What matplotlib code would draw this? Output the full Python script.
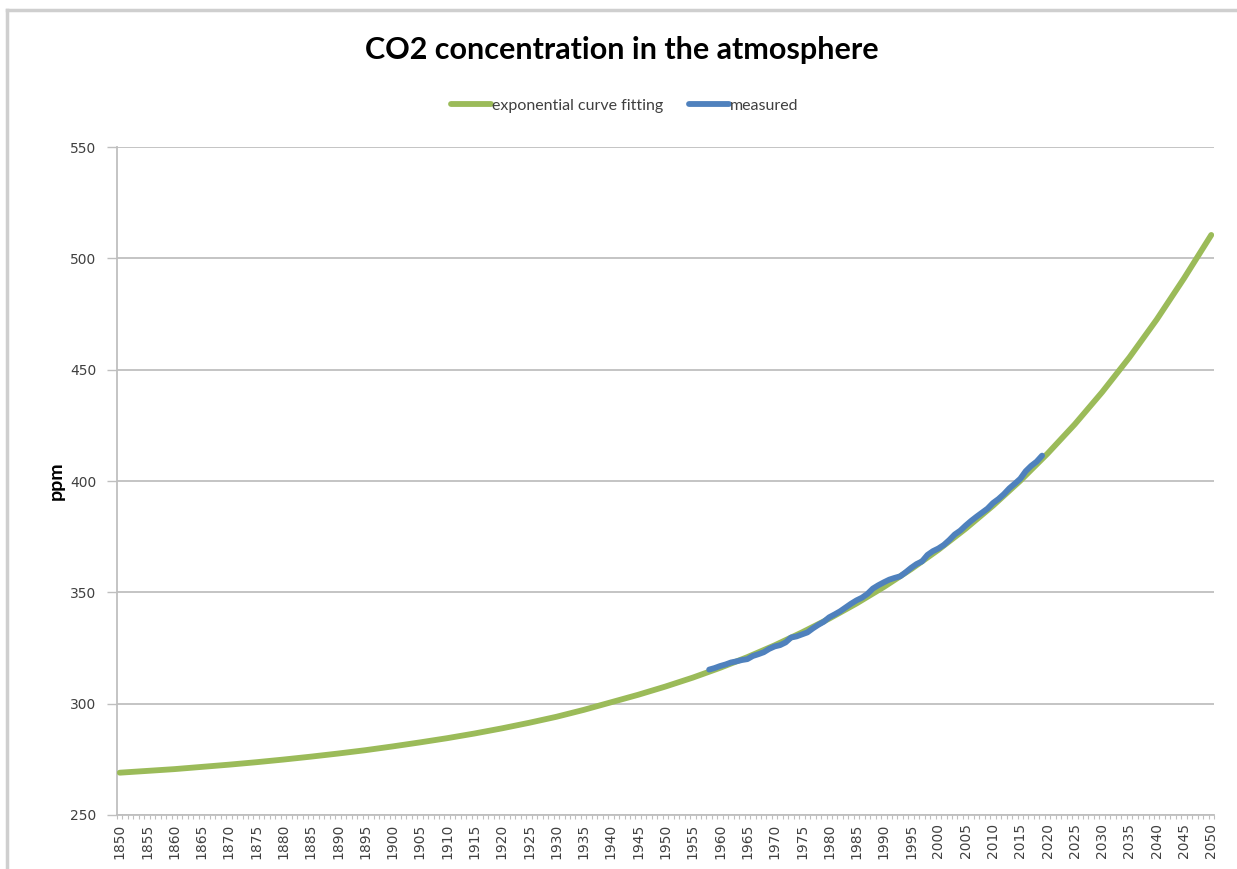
import numpy as np
import matplotlib
matplotlib.use("Agg")
import matplotlib.pyplot as plt
from matplotlib.lines import Line2D
from matplotlib.ticker import MultipleLocator, FixedLocator

# exponential fit, read every 5 years
fit_years = list(range(1850, 2051, 5))
fit_ppm = [269.0, 269.8, 270.6, 271.6, 272.6, 273.7, 274.9, 276.2, 277.6, 279.1,
           280.8, 282.6, 284.5, 286.6, 288.9, 291.4, 294.1, 297.2, 300.6, 304.0,
           307.7, 311.7, 316.1, 320.9, 326.2, 332.0, 338.2, 345.0, 352.4, 360.4,
           369.1, 378.6, 388.9, 400.1, 412.3, 425.5, 439.9, 455.5, 472.5, 491.0,
           510.5]

# measured (annual)
meas_years = list(range(1958, 2020))
meas_ppm = [315.3, 316.0, 316.9, 317.6, 318.5, 319.0, 319.6, 320.0, 321.4, 322.2,
            323.1, 324.6, 325.7, 326.3, 327.5, 329.7, 330.2, 331.1, 332.0, 333.8,
            335.4, 336.8, 338.8, 340.1, 341.5, 343.2, 344.9, 346.4, 347.6, 349.3,
            351.7, 353.2, 354.5, 355.7, 356.5, 357.2, 359.0, 361.0, 362.7, 363.9,
            366.8, 368.5, 369.7, 371.3, 373.5, 376.0, 377.7, 380.0, 382.1, 384.0,
            385.8, 387.6, 390.1, 391.9, 394.1, 396.7, 398.8, 401.0, 404.4, 406.8,
            408.7, 411.4]

green = '#9BBB59'
blue = '#4F81BD'
grid_c = '#BFBFBF'
text_c = '#404040'

fig = plt.figure(figsize=(12.37, 8.69), dpi=100)
ax = fig.add_axes([117/1237, 1 - 815/869, (1214-117)/1237, (815-147)/869])

ax.plot(fit_years, fit_ppm, color=green, lw=4.2, solid_capstyle='round',
        label='exponential curve fitting', zorder=3)
ax.plot(meas_years, meas_ppm, color=blue, lw=4.2, solid_capstyle='round',
        label='measured', zorder=4)

ax.set_xlim(1849.5, 2050.5)
ax.set_ylim(250, 550)
ax.yaxis.set_major_locator(MultipleLocator(50))
ax.set_xticks(fit_years)
ax.set_xticklabels([str(y) for y in fit_years], rotation=90)
ax.xaxis.set_minor_locator(FixedLocator(np.arange(1849.5, 2051, 1)))
ax.tick_params(axis='x', which='major', length=0, pad=6, labelsize=10, labelcolor=text_c)
ax.tick_params(axis='x', which='minor', length=3, width=0.8, color=grid_c)
ax.tick_params(axis='y', length=7, width=1, color=grid_c, pad=8, labelsize=10, labelcolor=text_c)

ax.grid(axis='y', color=grid_c, lw=1.3)
ax.set_axisbelow(True)
for s in ['top', 'right']:
    ax.spines[s].set_visible(False)
for s in ['left', 'bottom']:
    ax.spines[s].set_color(grid_c)
    ax.spines[s].set_linewidth(1.3)

ax.set_ylabel('ppm', fontsize=14, fontweight='bold', family='Lato', labelpad=4)

fig.text(0.503, 1 - 50/869, 'CO2 concentration in the atmosphere', ha='center', va='center',
         fontsize=22, fontweight='bold', family='Lato')

fig.legend(loc='center', bbox_to_anchor=(0.505, 1 - 106/869), ncol=2, frameon=False,
           prop={'family': 'Lato', 'size': 11.5}, handlelength=2.5, handletextpad=0.05,
           columnspacing=1.6)
for t in fig.legends[0].get_texts():
    t.set_color(text_c)

# chart border
fig.add_artist(Line2D([7/1237, 1], [1 - 10/869, 1 - 10/869], transform=fig.transFigure,
                      color='#CFCFCF', lw=2.5))
fig.add_artist(Line2D([7/1237, 7/1237], [0, 1 - 10/869], transform=fig.transFigure,
                      color='#CFCFCF', lw=2.5))

fig.savefig('out.png', dpi=100, facecolor='white')
